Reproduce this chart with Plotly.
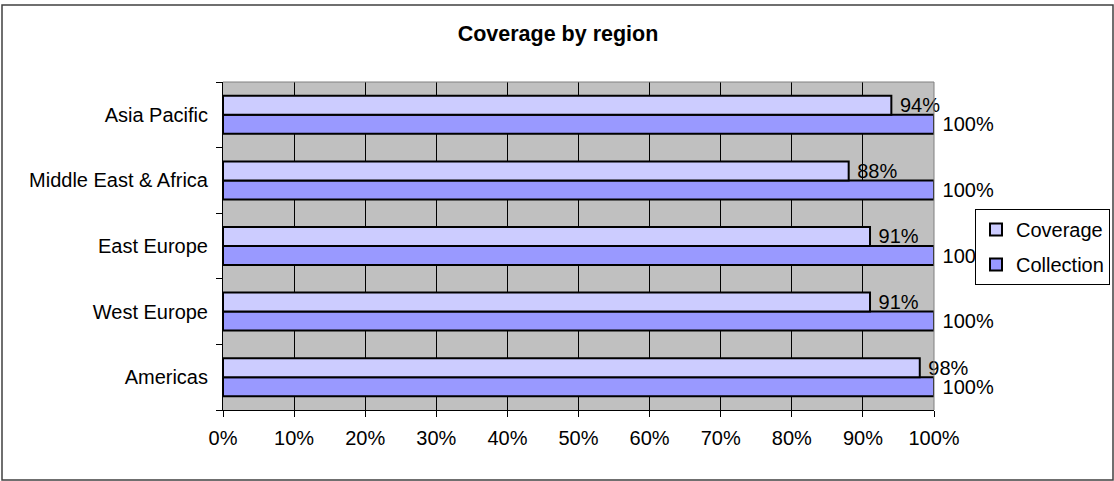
import plotly.graph_objects as go

# Regions, bottom to top
regions = ["Americas", "West Europe", "East Europe", "Middle East & Africa", "Asia Pacific"]
coverage = [98, 91, 91, 88, 94]
collection = [100, 100, 100, 100, 100]
x_ticks = list(range(0, 101, 10))
x_tick_labels = [f"{v}%" for v in x_ticks]

FONT = "Liberation Sans, Arial, sans-serif"
SIZE = 20

W, H = 1114, 481
L, R, T, B = 223, 180, 82, 71
pw, ph = W - L - R, H - T - B


def px_to_paper_x(px):
    return (px - L) / pw


def px_to_paper_y(py):
    return (H - B - py) / ph


fig = go.Figure()

# Plotly stacks grouped horizontal bars bottom-up, so Collection goes first
fig.add_trace(go.Bar(
    name="Collection", y=regions, x=collection, orientation="h",
    legendgroup="collection", legendrank=2,
    marker=dict(color="#9999FF", line=dict(color="black", width=2)),
    text=collection, texttemplate=" %{text}%", textposition="outside",
    constraintext="none", cliponaxis=False,
    textfont=dict(family=FONT, size=SIZE, color="black"),
))
fig.add_trace(go.Bar(
    name="Coverage", y=regions, x=coverage, orientation="h",
    legendgroup="coverage", legendrank=1,
    marker=dict(color="#CCCCFF", line=dict(color="black", width=2)),
    text=coverage, texttemplate=" %{text}%", textposition="outside",
    constraintext="none", cliponaxis=False,
    textfont=dict(family=FONT, size=SIZE, color="black"),
))

fig.update_layout(
    width=W, height=H,
    margin=dict(l=L, r=R, t=T, b=B, autoexpand=False),
    paper_bgcolor="white",
    plot_bgcolor="#C0C0C0",
    barmode="group",
    bargap=0.42,
    bargroupgap=0,
    font=dict(family=FONT, size=SIZE, color="black"),
    title=dict(
        text="<b>Coverage by region</b>",
        font=dict(family=FONT, size=21.5, color="black"),
        x=558 / W, xanchor="center", xref="container",
        y=1 - 33 / H, yanchor="middle", yref="container",
    ),
    xaxis=dict(
        range=[0, 100], tickvals=x_ticks, ticktext=x_tick_labels,
        showgrid=True, gridcolor="black", gridwidth=1,
        showline=True, linecolor="black", linewidth=1,
        ticks="outside", ticklen=6, tickcolor="black",
        ticklabelstandoff=4,
        zeroline=False, fixedrange=True,
        tickfont=dict(family=FONT, size=SIZE),
    ),
    yaxis=dict(
        categoryorder="array", categoryarray=regions,
        tickson="boundaries", showgrid=False,
        showline=True, linecolor="black", linewidth=1,
        ticks="outside", ticklen=6, tickcolor="black",
        ticklabelstandoff=10,
        fixedrange=True,
        tickfont=dict(family=FONT, size=SIZE),
    ),
    legend=dict(
        traceorder="grouped",
        tracegroupgap=6,
        xref="container", yref="container",
        x=975 / W, xanchor="left",
        y=1 - 209 / H, yanchor="top",
        bgcolor="white", bordercolor="black", borderwidth=1,
        font=dict(family=FONT, size=SIZE),
        itemwidth=30,
    ),
    shapes=[
        # grey frame of the plot area (top and right)
        dict(type="line", xref="paper", yref="paper", x0=0, x1=1, y0=1, y1=1,
             line=dict(color="#808080", width=1)),
        dict(type="line", xref="paper", yref="paper", x0=1, x1=1, y0=0, y1=1,
             line=dict(color="#808080", width=1)),
        # outer chart border
        dict(type="rect", xref="paper", yref="paper",
             x0=px_to_paper_x(2), x1=px_to_paper_x(1113),
             y0=px_to_paper_y(480), y1=px_to_paper_y(5),
             line=dict(color="#404040", width=1.5), fillcolor="rgba(0,0,0,0)",
             layer="below"),
    ],
)

fig.write_html("out.html")
